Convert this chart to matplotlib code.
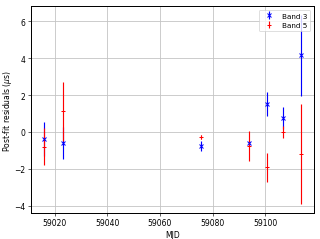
import matplotlib
matplotlib.use("Agg")
import matplotlib.pyplot as plt
import numpy as np

# --- Data ---
mjd_b3 = np.array([59015.9, 59023.0, 59075.6, 59093.7, 59100.6, 59106.7, 59113.6])
res_b3 = np.array([-0.38, -0.60, -0.74, -0.62, 1.50, 0.76, 4.14])
err_b3 = np.array([0.90, 0.87, 0.27, 0.15, 0.65, 0.59, 2.17])

mjd_b5 = np.array([59015.9, 59023.0, 59075.6, 59093.7, 59100.6, 59106.7, 59113.6])
res_b5 = np.array([-0.80, 1.12, -0.28, -0.77, -1.92, 0.02, -1.18])
err_b5 = np.array([1.00, 1.60, 0.12, 0.80, 0.77, 0.33, 2.70])


def main():
    plt.rcParams['axes.linewidth'] = 1.3
    plt.rcParams['grid.linewidth'] = 1.1
    plt.rcParams['grid.color'] = '#c4c4c4'

    fig, ax = plt.subplots(figsize=(320 / 55, 240 / 55), dpi=55)
    fig.subplots_adjust(left=0.097, right=0.981, top=0.971, bottom=0.108)

    ax.errorbar(mjd_b3, res_b3, yerr=err_b3, fmt='x', color='blue',
                elinewidth=1.5, markeredgewidth=1.3, label='Band 3')
    ax.errorbar(mjd_b5, res_b5, yerr=err_b5, fmt='+', color='red',
                elinewidth=1.5, markeredgewidth=1.3, label='Band 5')

    ax.set_xlabel('MJD')
    ax.set_ylabel(r'Post-fit residuals ($\mu$s)', labelpad=1)
    ax.grid(True)
    ax.legend(loc='upper right', fontsize=9.5)

    fig.savefig('out.png')


if __name__ == "__main__":
    main()
